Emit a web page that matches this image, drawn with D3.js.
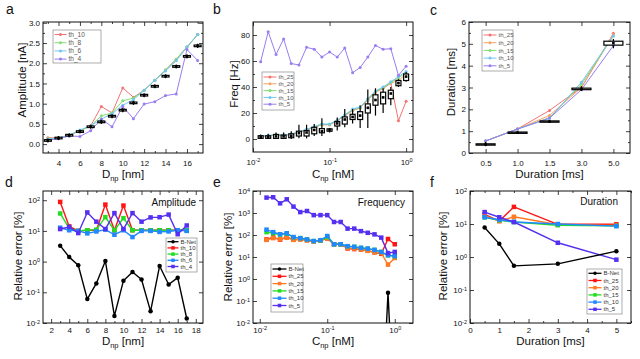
<!DOCTYPE html>
<html>
<head>
<meta charset="utf-8">
<script src="https://cdn.jsdelivr.net/npm/d3@7"></script>
<style>
  body { margin: 0; background: #fff; }
</style>
</head>
<body>
<div id="chart"></div>
<script>
// ---------- data ----------
// a: amplitude vs diameter
const aDiam = [3,4,5,6,7,8,9,10,11,12,13,14,15,16,17]
const aTh10 = [0.16,0.15,0.22,0.33,0.45,0.93,0.77,1.39,1.16,1.33,1.58,1.83,2.1,2.4,2.71]
const aTh8  = [0.14,0.15,0.22,0.33,0.45,0.70,0.77,1.07,1.14,1.33,1.58,1.83,2.1,2.4,2.71]
const aTh6  = [0.12,0.15,0.22,0.35,0.45,0.62,0.75,0.96,1.1,1.33,1.58,1.81,2.06,2.4,2.71]
const aTh4  = [0.10,0.13,0.20,0.19,0.33,0.62,0.43,0.93,0.63,0.99,1.05,1.2,1.24,2.34,2.07]
const aMean = [0.09,0.15,0.22,0.31,0.43,0.55,0.69,0.84,1.02,1.21,1.43,1.68,1.92,2.17,2.43]
const aQ1   = [0.07,0.13,0.20,0.29,0.41,0.53,0.67,0.82,1.0,1.19,1.41,1.66,1.9,2.15,2.41]
const aQ3   = [0.11,0.17,0.24,0.33,0.45,0.57,0.71,0.86,1.04,1.23,1.45,1.7,1.94,2.19,2.45]
const aLo   = [0.04,0.1,0.17,0.26,0.38,0.5,0.64,0.79,0.97,1.16,1.38,1.63,1.87,2.12,2.38]
const aHi   = [0.14,0.2,0.27,0.36,0.48,0.6,0.74,0.89,1.07,1.26,1.48,1.73,1.97,2.22,2.48]

// b: frequency vs concentration
const bConc = [0.0126,0.0158,0.02,0.0251,0.0316,0.0398,0.0501,0.0631,0.0794,0.1,0.126,0.158,0.2,0.251,0.316,0.398,0.501,0.631,0.794,1.0]
const bTh25 = [2,2.5,3,3,3.5,5,7,9,11,11,14,18,22,24,30,36,39,43,14,29]
const bTh20 = [2,2.5,3,3,3.5,5,7,9,11,11,14,18,22,24,30,36,39,43,45,50]
const bTh15 = [2.1,2.6,3.1,3.1,3.7,5.3,7.3,9.3,11.3,11.3,14.3,18.3,22.5,24.3,30.5,36.5,39.5,43.5,47,51]
const bTh10 = [2.2,2.7,3.2,3.2,3.8,5.5,7.5,9.5,11.5,11.5,14.5,18.5,23,24.5,31,37,40,44,48,52]
const bTh5  = [59.5,82.5,65,77,58,57,70.5,69,63,67,63,70,51,55,63,72,69,69.5,49,56]
const bMean = [1.5,1.5,2,2,2.5,4.5,5,7,6,7,12,15,17,18,24,30,32,35,43,48]
const bQ1   = [0.5,0.5,0.5,0.5,1,2.3,2.3,4,4.8,6,10,11.5,15,15,20,26,27,31,41,45]
const bQ3   = [2.5,2.5,3.5,3,4,6,6.5,9,8,7.8,13.5,17,19,21,27,34,36,37.5,45,50]
const bLo   = [0,0,0,0,0,0.5,0.5,2.3,2.3,5,6.5,9,12,8.5,8.5,18,20,26,40,44]
const bHi   = [3.5,4,5,5,6,11,11,11.5,16,8.5,16.5,23,23,26,38,39,39,40,46,51.5]

// c: duration vs duration
const cDur  = ["0.5","1.0","1.5","3.0","5.0"]
const cTh25 = [0.55,1.1,1.95,3.0,5.48]
const cTh20 = [0.55,1.1,1.72,3.0,5.42]
const cTh15 = [0.55,1.1,1.62,3.15,5.36]
const cTh10 = [0.55,1.1,1.58,3.24,5.36]
const cTh5  = [0.55,1.1,1.6,2.9,4.92]
const cMean = [0.39,0.93,1.44,2.93,5.03]
const cQ1   = [0.36,0.90,1.41,2.90,4.94]
const cQ3   = [0.42,0.96,1.47,2.97,5.12]
const cLo   = [0.31,0.88,1.38,2.84,4.80]
const cHi   = [0.50,0.99,1.50,3.06,5.22]

// d: relative error, amplitude
const dBnet = [3.3,1.4,0.76,0.06,0.195,1.05,0.017,0.24,0.46,0.26,0.024,0.72,0.18,0.3,0.014]
const dTh10 = [88,14,10,10.5,10.5,72,10.5,67,10.5,10.5,10.5,10.5,10.5,10.5,10.5]
const dTh8  = [37,12,10,10.5,11,28,10.5,26,10.5,10.5,10.5,10.5,10.5,10.5,10.5]
const dTh6  = [12.7,10.5,10,8.3,9.6,11,7.5,10.5,6.3,10,10,9.3,9.6,10.5,10]
const dTh4  = [11.5,13.5,8.5,40,20,11.5,38,11.5,38,20,27.5,28,34,7.8,15]

// e: relative error, frequency
const eBnet = [0,0,0,0,0,0,0,0,0,0,0,0,0,0,0,0,0,0,0.24,0]
const eTh25 = [63,78,62,80,63,65,58,52,55,70,38,38,24.5,23,22,19.5,16.5,14,66,38]
const eTh20 = [60,72,65,75,60,62,58,50,55,72,38,38,26,24,22,19,16,15,4.5,9]
const eTh15 = [135,120,105,115,80,72,63,53,57,80,38,38,31,29,26,24,21,17,12,11]
const eTh10 = [175,135,108,120,80,72,63,53,58,90,38,38,31,29,26,24,21,17,12,11]
const eTh5  = [5000,5200,2750,4200,1950,1100,1230,800,800,800,390,390,195,195,150,126,107,76,15,17]

// f: relative error, duration
const fDur  = [0.5,1,1.5,3,5]
const fBnet = [7.8,2.5,0.54,0.62,1.5]
const fTh25 = [19.5,12.3,33,9.8,9.8]
const fTh20 = [18,12.3,16.6,9.5,9]
const fTh15 = [16,13,11.5,9.2,8.8]
const fTh10 = [16,13.5,11.5,10,8.6]
const fTh5  = [23,16,11.5,2.7,0.83]

// ---------- helpers ----------
const light = { red: "#f47474", orange: "#f6a468", green: "#82de72", blue: "#72c5f2", purple: "#9a7df0" }
const dark  = { black: "#000", red: "#ff1414", orange: "#ff7a22", green: "#22dd22", blue: "#2288ff", purple: "#5530f0" }

const svg = d3.select("#chart").append("svg")
  .attr("width", 640).attr("height", 359)
  .style("font-family", "'Liberation Sans', Arial, sans-serif")

function supLabels(axisG) {
  axisG.selectAll(".tick text").each(function(d) {
    const t = d3.select(this)
    t.text("10")
    t.append("tspan").attr("dy", "-0.45em").attr("font-size", 5.5).text(Math.round(Math.log10(d)))
  })
}

function axis(g, fn, scale, values, size, tr, fmt, pad) {
  const a = g.append("g").attr("transform", tr)
    .call(fn(scale).tickValues(values).tickSizeInner(-size).tickSizeOuter(0)
      .tickPadding(pad || 3).tickFormat(fmt || ""))
  a.attr("font-family", null).attr("font-size", 8)
  a.select(".domain").remove()
  a.selectAll("line").attr("stroke", "#111").attr("stroke-width", 0.8)
  a.selectAll("text").attr("fill", "#111")
  return a
}

function makePanel(p) {
  const g = svg.append("g").attr("transform", `translate(${p.left},${p.top})`)
  const x = p.x.range([0, p.w])
  const y = p.y.range([p.h, 0])
  g.append("clipPath").attr("id", "clip" + p.letter)
    .append("rect").attr("width", p.w).attr("height", p.h)

  // major + minor ticks, inward, mirrored on top/right
  const xb = axis(g, d3.axisBottom, x, p.xTicks, 4, `translate(0,${p.h})`, p.xLog ? "" : p.xFmt, p.xPad)
  if (p.xLog) supLabels(xb)
  axis(g, d3.axisTop, x, p.xTicks, 4, "translate(0,0)")
  const yl = axis(g, d3.axisLeft, y, p.yTicks, 4, "translate(0,0)", p.yLog ? "" : p.yFmt, 3)
  if (p.yLog) supLabels(yl)
  axis(g, d3.axisRight, y, p.yTicks, 4, `translate(${p.w},0)`)
  if (p.xMinor) {
    axis(g, d3.axisBottom, x, p.xMinor, 2, `translate(0,${p.h})`)
    axis(g, d3.axisTop, x, p.xMinor, 2, "translate(0,0)")
  }
  if (p.yMinor) {
    axis(g, d3.axisLeft, y, p.yMinor, 2, "translate(0,0)")
    axis(g, d3.axisRight, y, p.yMinor, 2, `translate(${p.w},0)`)
  }

  const plot = g.append("g").attr("clip-path", `url(#clip${p.letter})`)
  g.append("rect").attr("width", p.w).attr("height", p.h)
    .attr("fill", "none").attr("stroke", "#111").attr("stroke-width", 1)

  // axis titles
  const xt = svg.append("text").attr("x", p.left + p.w / 2).attr("y", p.xLabelY)
    .attr("text-anchor", "middle").attr("font-size", 11.5).attr("fill", "#111")
  xt.append("tspan").text(p.xLabel[0])
  if (p.xLabel[1]) {
    xt.append("tspan").attr("font-size", 7.5).attr("dy", "0.35em").text(p.xLabel[1])
    xt.append("tspan").attr("dy", "-0.25em").text(p.xLabel[2])
  }
  svg.append("text")
    .attr("transform", `translate(${p.yLabelX},${p.yLabelMid}) rotate(-90)`)
    .attr("text-anchor", "middle").attr("font-size", 11.5).attr("fill", "#111")
    .text(p.yLabel)
  svg.append("text").attr("x", p.letterPos[0]).attr("y", p.letterPos[1])
    .attr("font-size", 14).attr("fill", "#111").text(p.letter)
  return { g, plot, x, y }
}

function marker(sel, cx, cy, shape, color, size) {
  if (shape === "square") {
    sel.append("rect").attr("x", cx - size / 2).attr("y", cy - size / 2)
      .attr("width", size).attr("height", size).attr("fill", color)
  } else {
    sel.append("circle").attr("cx", cx).attr("cy", cy).attr("r", size / 2).attr("fill", color)
  }
}

function series(P, xs, ys, color, shape, sw, ms, floor) {
  const val = v => (floor && v <= 0) ? floor : v
  const pts = xs.map((v, i) => [v, ys[i]])
  P.plot.append("path").datum(pts)
    .attr("fill", "none").attr("stroke", color).attr("stroke-width", sw)
    .attr("stroke-linejoin", "round")
    .attr("d", d3.line().x(d => P.x(d[0])).y(d => P.y(val(d[1]))))
  pts.filter(d => d[1] > 0).forEach(d => marker(P.plot, P.x(d[0]), P.y(d[1]), shape, color, ms))
}

function boxes(P, xs, q1, q3, lo, hi, mean, bw) {
  xs.forEach((xv, i) => {
    const cx = P.x(xv)
    P.plot.append("line").attr("x1", cx).attr("x2", cx)
      .attr("y1", P.y(lo[i])).attr("y2", P.y(hi[i])).attr("stroke", "#000").attr("stroke-width", 1.2)
    P.plot.append("rect").attr("x", cx - bw / 2).attr("width", bw)
      .attr("y", P.y(q3[i])).attr("height", P.y(q1[i]) - P.y(q3[i]))
      .attr("fill", "#fff").attr("stroke", "#000").attr("stroke-width", 1.2)
    marker(P.plot, cx, P.y(mean[i]), "square", "#000", 2.6)
  })
}

function legend(x0, y0, w, h, items, o) {
  const g = svg.append("g").attr("transform", `translate(${x0},${y0})`)
  g.append("rect").attr("width", w).attr("height", h)
    .attr("fill", "#fff").attr("stroke", "#777").attr("stroke-width", 0.6)
  items.forEach((it, i) => {
    const yy = o.first + i * o.step
    g.append("line").attr("x1", 1.5).attr("x2", 1.5 + o.len).attr("y1", yy).attr("y2", yy)
      .attr("stroke", it[1]).attr("stroke-width", o.sw)
    marker(g, 1.5 + o.len / 2, yy, it[2], it[1], o.ms)
    g.append("text").attr("x", 3.5 + o.len).attr("y", yy).attr("dy", "0.35em")
      .attr("font-size", o.fs).attr("fill", o.tc).text(it[0])
  })
}

function title(x, y, s) {
  svg.append("text").attr("x", x).attr("y", y).attr("text-anchor", "end")
    .attr("font-size", 10).attr("fill", "#111").text(s)
}

const linTicks = (a, b, s) => d3.range(a, b + s / 2, s)

// ---------- panel a ----------
const A = makePanel({
  letter: "a", letterPos: [6, 14], left: 43, top: 22, w: 160, h: 131,
  x: d3.scaleLinear().domain([2.55, 17.5]), y: d3.scaleLinear().domain([-0.22, 3.02]),
  xTicks: linTicks(4, 16, 2), xMinor: linTicks(3, 17, 2), xFmt: d3.format("d"), xPad: 7,
  yTicks: linTicks(0, 3, 0.5), yMinor: linTicks(0.25, 2.75, 0.5), yFmt: d3.format(".1f"),
  xLabel: ["D", "np", " [nm]"], xLabelY: 178, yLabel: "Amplitude [nA]", yLabelX: 26, yLabelMid: 80
})
series(A, aDiam, aTh10, light.red, "circle", 1, 3)
series(A, aDiam, aTh8, light.green, "circle", 1, 3)
series(A, aDiam, aTh6, light.blue, "circle", 1, 3)
series(A, aDiam, aTh4, light.purple, "circle", 1, 3)
boxes(A, aDiam, aQ1, aQ3, aLo, aHi, aMean, 7)
legend(53, 30, 48, 33, [["th_10", light.red, "circle"], ["th_8", light.green, "circle"],
  ["th_6", light.blue, "circle"], ["th_4", light.purple, "circle"]],
  { first: 4.5, step: 8.2, len: 12, sw: 1, ms: 3, fs: 6.5, tc: "#555" })

// ---------- panel b ----------
const B = makePanel({
  letter: "b", letterPos: [213, 14], left: 253, top: 22, w: 160, h: 130,
  x: d3.scaleLog().domain([0.01, Math.pow(10, 0.09)]), y: d3.scaleLinear().domain([-10, 90]),
  xTicks: [0.01, 0.1, 1], xLog: true, xPad: 7,
  yTicks: linTicks(0, 80, 20), yMinor: linTicks(10, 70, 20), yFmt: d3.format("d"),
  xLabel: ["C", "np", " [nM]"], xLabelY: 178, yLabel: "Freq [Hz]", yLabelX: 238, yLabelMid: 84
})
series(B, bConc, bTh25, light.red, "circle", 1, 3)
series(B, bConc, bTh20, light.orange, "circle", 1, 3)
series(B, bConc, bTh15, light.green, "circle", 1, 3)
series(B, bConc, bTh10, light.blue, "circle", 1, 3)
series(B, bConc, bTh5, light.purple, "circle", 1, 3)
boxes(B, bConc, bQ1, bQ3, bLo, bHi, bMean, 5)
legend(262, 72, 32, 38, [["th_25", light.red, "circle"], ["th_20", light.orange, "circle"],
  ["th_15", light.green, "circle"], ["th_10", light.blue, "circle"], ["th_5", light.purple, "circle"]],
  { first: 5, step: 6.8, len: 13, sw: 1, ms: 3, fs: 6, tc: "#555" })

// ---------- panel c ----------
const C = makePanel({
  letter: "c", letterPos: [430, 15], left: 469, top: 22, w: 161, h: 131,
  x: d3.scalePoint().domain(cDur).padding(0.52), y: d3.scaleLinear().domain([0, 6]),
  xTicks: cDur, xFmt: d => d, xPad: 7,
  yTicks: linTicks(0, 6, 1), yMinor: linTicks(0.5, 5.5, 1), yFmt: d3.format("d"),
  xLabel: ["Duration [ms]"], xLabelY: 178, yLabel: "Duration [ms]", yLabelX: 455, yLabelMid: 82
})
series(C, cDur, cTh25, light.red, "circle", 1, 3)
series(C, cDur, cTh20, light.orange, "circle", 1, 3)
series(C, cDur, cTh15, light.green, "circle", 1, 3)
series(C, cDur, cTh10, light.blue, "circle", 1, 3)
series(C, cDur, cTh5, light.purple, "circle", 1, 3)
boxes(C, cDur, cQ1, cQ3, cLo, cHi, cMean, 19)
legend(482, 30, 31, 41, [["th_25", light.red, "circle"], ["th_20", light.orange, "circle"],
  ["th_15", light.green, "circle"], ["th_10", light.blue, "circle"], ["th_5", light.purple, "circle"]],
  { first: 5, step: 7.7, len: 13, sw: 1, ms: 3, fs: 6, tc: "#555" })

// ---------- panel d ----------
const D = makePanel({
  letter: "d", letterPos: [5, 187], left: 43, top: 191, w: 160, h: 132,
  x: d3.scaleLinear().domain([1.1, 18.8]), y: d3.scaleLog().domain([0.01, Math.pow(10, 2.3)]),
  xTicks: linTicks(2, 18, 2), xMinor: linTicks(3, 17, 2), xFmt: d3.format("d"), xPad: 4,
  yTicks: [0.01, 0.1, 1, 10, 100], yLog: true,
  xLabel: ["D", "np", " [nm]"], xLabelY: 345, yLabel: "Relative error [%]", yLabelX: 22, yLabelMid: 256
})
series(D, aDiam, dTh10, dark.red, "square", 1.4, 4.5)
series(D, aDiam, dTh8, dark.green, "square", 1.4, 4.5)
series(D, aDiam, dTh6, dark.blue, "square", 1.4, 4.5)
series(D, aDiam, dTh4, dark.purple, "square", 1.4, 4.5)
series(D, aDiam, dBnet, dark.black, "circle", 1.4, 4.5)
title(196, 206, "Amplitude")
legend(166, 238, 31, 34, [["B-Net", dark.black, "circle"], ["th_10", dark.red, "square"],
  ["th_8", dark.green, "square"], ["th_6", dark.blue, "square"], ["th_4", dark.purple, "square"]],
  { first: 3.7, step: 6.2, len: 11, sw: 1.3, ms: 3.5, fs: 6, tc: "#333" })

// ---------- panel e ----------
const E = makePanel({
  letter: "e", letterPos: [213, 187], left: 253, top: 191, w: 160, h: 132,
  x: d3.scaleLog().domain([Math.pow(10, -2.1), Math.pow(10, 0.27)]), y: d3.scaleLog().domain([0.01, 10000]),
  xTicks: [0.01, 0.1, 1], xLog: true, xPad: 4,
  yTicks: [0.01, 0.1, 1, 10, 100, 1000, 10000], yLog: true,
  xLabel: ["C", "np", " [nM]"], xLabelY: 345, yLabel: "Relative error [%]", yLabelX: 232, yLabelMid: 257
})
series(E, bConc, eTh25, dark.red, "square", 1.4, 4.5)
series(E, bConc, eTh20, dark.orange, "square", 1.4, 4.5)
series(E, bConc, eTh15, dark.green, "square", 1.4, 4.5)
series(E, bConc, eTh10, dark.blue, "square", 1.4, 4.5)
series(E, bConc, eTh5, dark.purple, "square", 1.4, 4.5)
series(E, bConc, eBnet, dark.black, "circle", 1.4, 4.5, 1e-7)
title(405, 206, "Frequency")
legend(271, 264, 32, 48, [["B-Net", dark.black, "circle"], ["th_25", dark.red, "square"],
  ["th_20", dark.orange, "square"], ["th_15", dark.green, "square"], ["th_10", dark.blue, "square"],
  ["th_5", dark.purple, "square"]],
  { first: 5, step: 7.3, len: 14, sw: 1.3, ms: 3.5, fs: 6, tc: "#333" })

// ---------- panel f ----------
const F = makePanel({
  letter: "f", letterPos: [430, 187], left: 470, top: 191, w: 161, h: 132,
  x: d3.scaleLinear().domain([0, 5.5]), y: d3.scaleLog().domain([0.01, 100]),
  xTicks: linTicks(0, 5, 1), xMinor: linTicks(0.5, 5.5, 1), xFmt: d3.format("d"), xPad: 4,
  yTicks: [0.01, 0.1, 1, 10, 100], yLog: true,
  xLabel: ["Duration [ms]"], xLabelY: 345, yLabel: "Relative error [%]", yLabelX: 447, yLabelMid: 256
})
series(F, fDur, fTh25, dark.red, "square", 1.4, 4.5)
series(F, fDur, fTh20, dark.orange, "square", 1.4, 4.5)
series(F, fDur, fTh15, dark.green, "square", 1.4, 4.5)
series(F, fDur, fTh10, dark.blue, "square", 1.4, 4.5)
series(F, fDur, fTh5, dark.purple, "square", 1.4, 4.5)
series(F, fDur, fBnet, dark.black, "circle", 1.4, 4.5)
title(618, 205, "Duration")
legend(587, 269, 35, 45, [["B-Net", dark.black, "circle"], ["th_25", dark.red, "square"],
  ["th_20", dark.orange, "square"], ["th_15", dark.green, "square"], ["th_10", dark.blue, "square"],
  ["th_5", dark.purple, "square"]],
  { first: 4.3, step: 7.2, len: 13, sw: 1.3, ms: 3.5, fs: 6, tc: "#333" })
</script>
</body>
</html>
